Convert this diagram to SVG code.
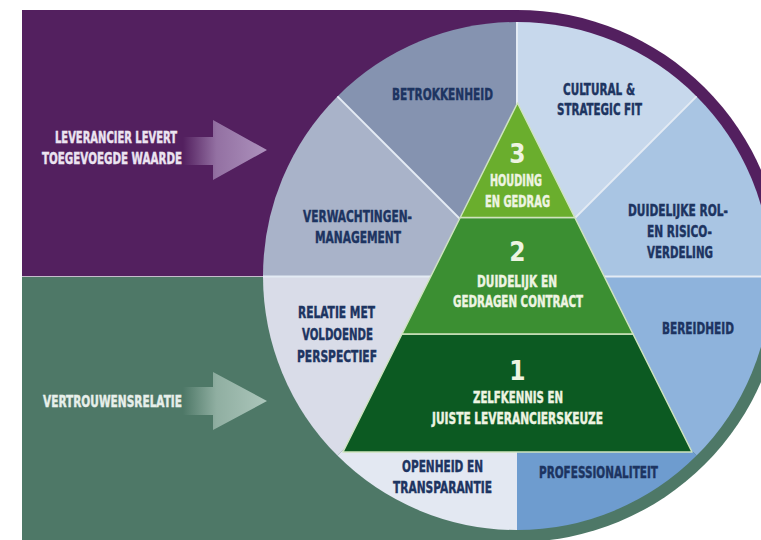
<svg xmlns="http://www.w3.org/2000/svg" width="761" height="540" viewBox="0 0 761 540">
  <style>
    text { font-family: "DejaVu Sans Condensed", "Liberation Sans Narrow", "Liberation Sans", sans-serif; font-weight: bold; font-stretch: condensed; stroke-width: 0.4; }
    .lbl { font-size: 15px; fill: #1d3461; stroke: #1d3461; }
    .side { font-size: 15px; }
    .tier { font-size: 15px; fill: #eef4e2; stroke: #eef4e2; }
    .num { font-size: 26px; fill: #eef4e2; text-anchor: middle; }
    .spoke { stroke: #e4ebf4; stroke-width: 2; fill: none; }
    .pyr { stroke: #cfe3bf; stroke-width: 1.5; stroke-linejoin: round; }
  </style>
  <defs>
    <linearGradient id="arrowPurple" gradientUnits="userSpaceOnUse" x1="183" y1="0" x2="267" y2="0">
      <stop offset="0" stop-color="#a98cb9" stop-opacity="0"/>
      <stop offset="0.4" stop-color="#a98cb9" stop-opacity="0.75"/>
      <stop offset="1" stop-color="#ad92bd"/>
    </linearGradient>
    <linearGradient id="arrowGreen" gradientUnits="userSpaceOnUse" x1="183" y1="0" x2="267" y2="0">
      <stop offset="0" stop-color="#a6c1b5" stop-opacity="0"/>
      <stop offset="0.4" stop-color="#a6c1b5" stop-opacity="0.75"/>
      <stop offset="1" stop-color="#acc6bb"/>
    </linearGradient>
  </defs>

  <rect width="761" height="540" fill="#ffffff"/>

  <!-- background bands with the outer ring of the wheel -->
  <path d="M22,10 H517 A266,266 0 0 1 783,276 H22 Z" fill="#53205f"/>
  <path d="M22,276 H783 A266,266 0 0 1 517,542 H22 Z" fill="#4e7867"/>
  <line x1="22" y1="276.5" x2="265" y2="276.5" stroke="#c6bccd" stroke-width="1.2"/>

  <!-- wheel segments -->
  <g id="betrokkenheid">
    <path d="M517,276 L337.39,96.39 A254,254 0 0 1 517,22 Z" fill="#8593b0"/>
    <text class="lbl" x="392" y="99.5" textLength="101" lengthAdjust="spacingAndGlyphs">BETROKKENHEID</text>
  </g>
  <g id="cultural-fit">
    <path d="M517,276 L517,22 A254,254 0 0 1 696.61,96.39 Z" fill="#c7d8ec"/>
    <text class="lbl" x="563" y="94.5" textLength="72" lengthAdjust="spacingAndGlyphs">CULTURAL &amp;</text>
    <text class="lbl" x="557" y="114.5" textLength="85" lengthAdjust="spacingAndGlyphs">STRATEGIC FIT</text>
  </g>
  <g id="rolverdeling">
    <path d="M517,276 L696.61,96.39 A254,254 0 0 1 771,276 Z" fill="#a9c5e3"/>
    <text class="lbl" x="628" y="216" textLength="100" lengthAdjust="spacingAndGlyphs">DUIDELIJKE ROL-</text>
    <text class="lbl" x="647" y="237" textLength="65" lengthAdjust="spacingAndGlyphs">EN RISICO-</text>
    <text class="lbl" x="647" y="257.5" textLength="66" lengthAdjust="spacingAndGlyphs">VERDELING</text>
  </g>
  <g id="bereidheid">
    <path d="M517,276 L771,276 A254,254 0 0 1 696.61,455.61 Z" fill="#8eb3dc"/>
    <text class="lbl" x="662" y="333.5" textLength="72" lengthAdjust="spacingAndGlyphs">BEREIDHEID</text>
  </g>
  <g id="professionaliteit">
    <path d="M517,276 L696.61,455.61 A254,254 0 0 1 517,530 Z" fill="#6e9ccf"/>
    <text class="lbl" x="539" y="477.5" textLength="119" lengthAdjust="spacingAndGlyphs">PROFESSIONALITEIT</text>
  </g>
  <g id="openheid">
    <path d="M517,276 L517,530 A254,254 0 0 1 337.39,455.61 Z" fill="#e3e8f2"/>
    <text class="lbl" x="402" y="471.5" textLength="81" lengthAdjust="spacingAndGlyphs">OPENHEID EN</text>
    <text class="lbl" x="393" y="492.5" textLength="99" lengthAdjust="spacingAndGlyphs">TRANSPARANTIE</text>
  </g>
  <g id="relatie-perspectief">
    <path d="M517,276 L337.39,455.61 A254,254 0 0 1 263,276 Z" fill="#d9dce8"/>
    <text class="lbl" x="298" y="317.5" textLength="77" lengthAdjust="spacingAndGlyphs">RELATIE MET</text>
    <text class="lbl" x="302" y="339.5" textLength="71" lengthAdjust="spacingAndGlyphs">VOLDOENDE</text>
    <text class="lbl" x="297" y="361.5" textLength="80" lengthAdjust="spacingAndGlyphs">PERSPECTIEF</text>
  </g>
  <g id="verwachtingen">
    <path d="M517,276 L263,276 A254,254 0 0 1 337.39,96.39 Z" fill="#a9b3c9"/>
    <text class="lbl" x="303" y="221.5" textLength="109" lengthAdjust="spacingAndGlyphs">VERWACHTINGEN-</text>
    <text class="lbl" x="315" y="242.5" textLength="86" lengthAdjust="spacingAndGlyphs">MANAGEMENT</text>
  </g>

  <!-- divider lines between the segments -->
  <g id="spokes">
    <line class="spoke" x1="517" y1="276" x2="337.39" y2="96.39"/>
    <line class="spoke" x1="517" y1="276" x2="517" y2="22"/>
    <line class="spoke" x1="517" y1="276" x2="696.61" y2="96.39"/>
    <line class="spoke" x1="517" y1="276.5" x2="771" y2="276.5"/>
    <line class="spoke" x1="517" y1="276.5" x2="263" y2="276.5"/>
  </g>

  <!-- pyramid of three tiers -->
  <g id="tier-1">
    <path class="pyr" d="M402,334 L633,334 L692,452 L343,452 Z" fill="#0c5a22"/>
    <text class="num" x="517.5" y="379.5">1</text>
    <text class="tier" x="473" y="402.5" textLength="90" lengthAdjust="spacingAndGlyphs">ZELFKENNIS EN</text>
    <text class="tier" x="432" y="423.5" textLength="171" lengthAdjust="spacingAndGlyphs">JUISTE LEVERANCIERSKEUZE</text>
  </g>
  <g id="tier-2">
    <path class="pyr" d="M460.25,217.5 L574.75,217.5 L633,334 L402,334 Z" fill="#3b8f32"/>
    <text class="num" x="517.5" y="261">2</text>
    <text class="tier" x="477" y="286.5" textLength="80" lengthAdjust="spacingAndGlyphs">DUIDELIJK EN</text>
    <text class="tier" x="453" y="306.5" textLength="130" lengthAdjust="spacingAndGlyphs">GEDRAGEN CONTRACT</text>
  </g>
  <g id="tier-3">
    <path class="pyr" d="M517.5,103 L574.75,217.5 L460.25,217.5 Z" fill="#6aae2d"/>
    <text class="num" x="517.5" y="162.5">3</text>
    <text class="tier" x="490" y="185.5" textLength="52" lengthAdjust="spacingAndGlyphs">HOUDING</text>
    <text class="tier" x="485" y="206.5" textLength="65" lengthAdjust="spacingAndGlyphs">EN GEDRAG</text>
  </g>

  <!-- side labels with their arrows -->
  <g id="waarde">
    <text class="side" x="55" y="143" fill="#ece4f1" stroke="#ece4f1" textLength="122" lengthAdjust="spacingAndGlyphs">LEVERANCIER LEVERT</text>
    <text class="side" x="42" y="163.5" fill="#ece4f1" stroke="#ece4f1" textLength="140" lengthAdjust="spacingAndGlyphs">TOEGEVOEGDE WAARDE</text>
  </g>
  <g id="vertrouwen">
    <text class="side" x="43" y="406.5" fill="#e7efea" stroke="#e7efea" textLength="139" lengthAdjust="spacingAndGlyphs">VERTROUWENSRELATIE</text>
  </g>
  <g id="connectors">
    <path d="M183,137 H213 V120 L267,150 L213,180 V165 H183 Z" fill="url(#arrowPurple)"/>
    <path d="M183,387 H213 V372 L267,401 L213,430 V415 H183 Z" fill="url(#arrowGreen)"/>
  </g>
</svg>
